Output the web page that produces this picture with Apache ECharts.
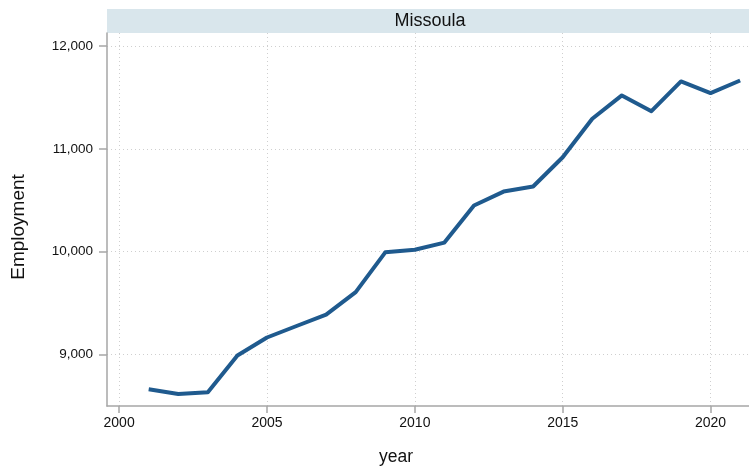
<!DOCTYPE html>
<html>
<head>
<meta charset="utf-8">
<script src="https://cdn.jsdelivr.net/npm/echarts@6/dist/echarts.min.js"></script>
<style>
  html, body { margin: 0; padding: 0; background: #fff; }
  #chart { width: 749px; height: 468px; }
</style>
</head>
<body>
<div id="chart"></div>
<script>
// employment, Missoula
const years = [2001, 2002, 2003, 2004, 2005, 2006, 2007, 2008, 2009, 2010, 2011,
  2012, 2013, 2014, 2015, 2016, 2017, 2018, 2019, 2020, 2021];
const employment = [8661, 8616, 8632, 8990, 9165, 9277, 9387, 9606, 9993, 10018, 10088,
  10448, 10584, 10633, 10918, 11292, 11519, 11366, 11655, 11542, 11664];
const xTicks = [2000, 2005, 2010, 2015, 2020];
const yTicks = [9000, 10000, 11000, 12000];
const panelTitle = "Missoula";

const font = "'Liberation Sans', Arial, sans-serif";
const chart = echarts.init(document.getElementById("chart"));

const option = {
  animation: false,
  grid: { left: 107, right: 0, top: 33, bottom: 62 },
  graphic: [
    {
      type: "rect",
      shape: { x: 107, y: 9, width: 642, height: 24 },
      style: { fill: "#d9e6ec" }
    },
    {
      type: "text",
      x: 430, y: 21,
      style: { text: panelTitle, font: "18px " + font, fill: "#111", align: "center", verticalAlign: "middle" }
    },
    {
      type: "text",
      x: 396, y: 457,
      style: { text: "year", font: "17.5px " + font, fill: "#111", align: "center", verticalAlign: "middle" }
    },
    {
      type: "text",
      x: 19, y: 227, rotation: Math.PI / 2,
      style: { text: "Employment", font: "19px " + font, fill: "#111", align: "center", verticalAlign: "middle" }
    }
  ],
  xAxis: {
    type: "value",
    min: 1999.59,
    max: 2021.3,
    axisLine: { show: true, lineStyle: { color: "#a6a6a6", width: 1.5 } },
    axisTick: { show: true, length: 7, customValues: xTicks, lineStyle: { color: "#a6a6a6", width: 1.5 } },
    axisLabel: {
      customValues: xTicks, margin: 10, color: "#111", fontSize: 14, fontFamily: font,
      formatter: (v) => String(v)
    },
    splitLine: { show: true, lineStyle: { color: "#cfcfcf", type: [1, 3], width: 1 } }
  },
  yAxis: {
    type: "value",
    min: 8499,
    max: 12126,
    axisLine: { show: true, lineStyle: { color: "#a6a6a6", width: 1.5 } },
    axisTick: { show: true, length: 8, customValues: yTicks, lineStyle: { color: "#a6a6a6", width: 1.5 } },
    axisLabel: {
      customValues: yTicks, margin: 14, color: "#111", fontSize: 13.5, fontFamily: font,
      formatter: (v) => v.toLocaleString("en-US")
    },
    splitLine: { show: true, lineStyle: { color: "#cfcfcf", type: [1, 3], width: 1 } }
  },
  series: [
    {
      type: "line",
      data: years.map((y, i) => [y, employment[i]]),
      showSymbol: false,
      lineStyle: { color: "#1f5a8e", width: 4, join: "round" },
      clip: false
    }
  ]
};
chart.setOption(option);
</script>
</body>
</html>
